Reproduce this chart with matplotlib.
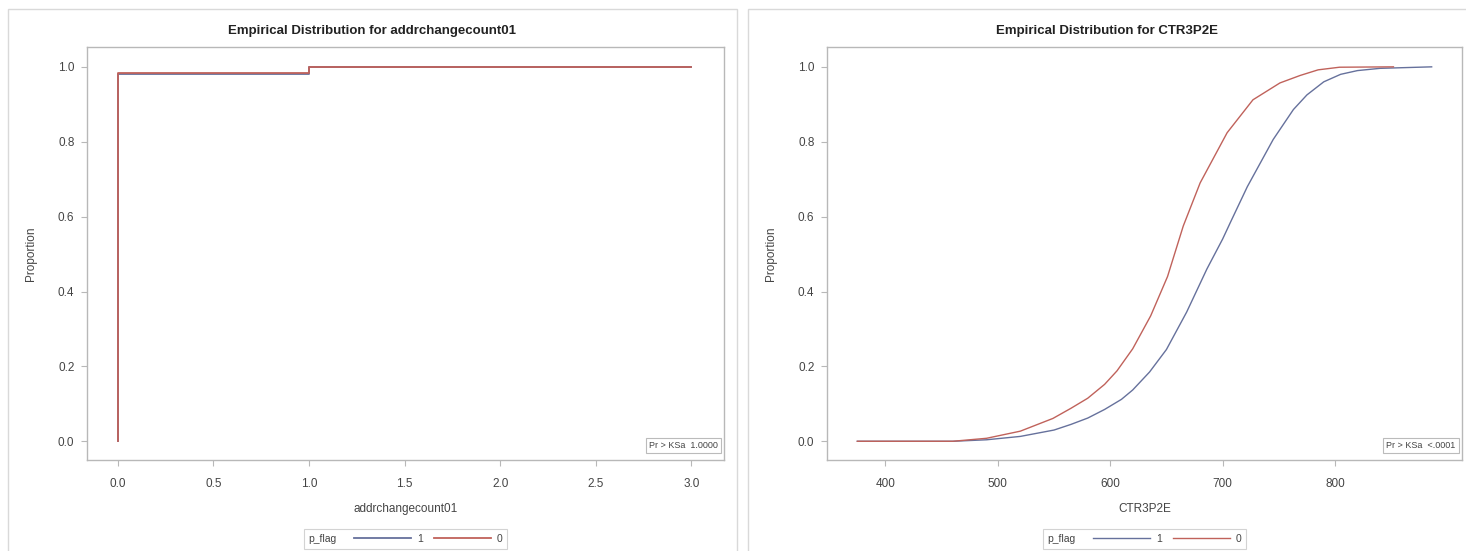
import matplotlib
matplotlib.use("Agg")
import matplotlib.pyplot as plt
from matplotlib.patches import Rectangle
from matplotlib.offsetbox import HPacker

plt.rcParams['font.family'] = ['Liberation Sans', 'DejaVu Sans']

# data
group_labels = ['1', '0']
group_colors = ['#66719c', '#c0625b']

# addrchangecount01 ECDF (steps)
addr_x = [0, 0, 1, 3]
addr_y_1 = [0.0, 0.981, 0.9995, 1.0]
addr_y_0 = [0.0, 0.983, 0.9995, 1.0]

# CTR3P2E ECDF
ctr_x_1 = [375, 460, 490, 520, 550, 565, 580, 595, 610, 620, 635, 650, 668, 686,
           700, 707, 722, 745, 763, 775, 790, 805, 820, 840, 886]
ctr_y_1 = [0.0, 0.0, 0.004, 0.013, 0.03, 0.045, 0.062, 0.085, 0.112, 0.137, 0.185, 0.245,
           0.345, 0.46, 0.54, 0.585, 0.68, 0.806, 0.886, 0.925, 0.96, 0.98, 0.99, 0.996, 1.0]
ctr_x_0 = [375, 460, 490, 520, 549, 565, 580, 595, 606, 620, 636, 651, 665, 680,
           704, 727, 751, 769, 785, 804, 852]
ctr_y_0 = [0.0, 0.0, 0.008, 0.027, 0.061, 0.088, 0.115, 0.152, 0.188, 0.247, 0.335, 0.44,
           0.575, 0.69, 0.824, 0.912, 0.957, 0.977, 0.992, 0.999, 1.0]

panels = [
    dict(var='addrchangecount01', xs=[addr_x, addr_x], ys=[addr_y_1, addr_y_0],
         step=True, xlim=(-0.16, 3.17), xticks=[0, 0.5, 1, 1.5, 2, 2.5, 3],
         fmt='{:.1f}', ks='Pr > KSa  1.0000'),
    dict(var='CTR3P2E', xs=[ctr_x_1, ctr_x_0], ys=[ctr_y_1, ctr_y_0],
         step=False, xlim=(348, 913), xticks=[400, 500, 600, 700, 800],
         fmt='{:.0f}', ks='Pr > KSa  <.0001'),
]

W, H = 1466, 551
fig = plt.figure(figsize=(W / 100, H / 100), dpi=100)

# panel frames
for x0, x1 in [(8, 737), (748, 1470)]:
    fig.patches.append(Rectangle((x0 / W, -0.1), (x1 - x0) / W, 1.1 - 9 / H,
                                 transform=fig.transFigure, fill=False,
                                 edgecolor='#d9d9d9', lw=1))

axes_left = [87, 827]
axes_right = [724, 1462]
top, bottom = 47, 460
grey = '#b8b8b8'
txt = '#444444'

for p, xl, xr, (px0, px1) in zip(panels, axes_left, axes_right, [(8, 737), (748, 1466)]):
    ax = fig.add_axes([xl / W, 1 - bottom / H, (xr - xl) / W, (bottom - top) / H])
    handles = []
    for x, y, c in zip(p['xs'], p['ys'], group_colors):
        if p['step']:
            h, = ax.plot(x, y, drawstyle='steps-post', color=c, lw=1.3)
        else:
            h, = ax.plot(x, y, color=c, lw=1.0)
        handles.append(h)
    ax.set_xlim(*p['xlim'])
    ax.set_ylim(-0.05, 1.053)
    ax.set_xticks(p['xticks'])
    ax.set_xticklabels([p['fmt'].format(v) for v in p['xticks']])
    ax.set_yticks([0, 0.2, 0.4, 0.6, 0.8, 1.0])
    ax.set_yticklabels(['0.0', '0.2', '0.4', '0.6', '0.8', '1.0'])
    for s in ax.spines.values():
        s.set_color(grey)
        s.set_linewidth(1)
    ax.tick_params(colors=grey, labelcolor=txt, labelsize=8.5, length=4, width=0.8)
    ax.tick_params(axis='x', pad=9)
    ax.tick_params(axis='y', pad=5)
    ax.set_xlabel(p['var'], fontsize=8.5, color=txt, labelpad=9)
    ax.set_ylabel('Proportion', fontsize=8.5, color=txt, labelpad=15)
    fig.text((px0 + px1) / 2 / W, 1 - 31 / H, 'Empirical Distribution for ' + p['var'],
             ha='center', va='center', fontsize=9.5, fontweight='bold', color='#222222')
    ax.text(0.99, 0.025, p['ks'], transform=ax.transAxes, ha='right', va='bottom',
            fontsize=6.5, color=txt,
            bbox=dict(boxstyle='square,pad=0.35', fc='white', ec='#bbbbbb', lw=0.8))

    leg = ax.legend(handles, group_labels, title='p_flag', loc='upper center',
                    bbox_to_anchor=(0.5, -0.155), ncol=2, fontsize=7.5,
                    title_fontsize=7.5, handlelength=5.4, handletextpad=0.6,
                    columnspacing=1.1, borderpad=0.45, frameon=True, fancybox=False,
                    edgecolor='#c8c8c8')
    leg.get_frame().set_linewidth(0.8)
    leg.get_title().set_color(txt)
    for t in leg.get_texts():
        t.set_color(txt)
    # put the title to the left of the entries, like SAS does
    try:
        fs = leg._fontsize
        box = HPacker(pad=leg.borderpad * fs, sep=1.7 * fs, align='center',
                      children=[leg._legend_title_box, leg._legend_handle_box])
        box.set_figure(fig)
        box.axes = ax
        box.set_offset(leg._findoffset)
        leg._legend_box = box
    except Exception:
        pass

fig.savefig('out.png', dpi=100, facecolor='white')
